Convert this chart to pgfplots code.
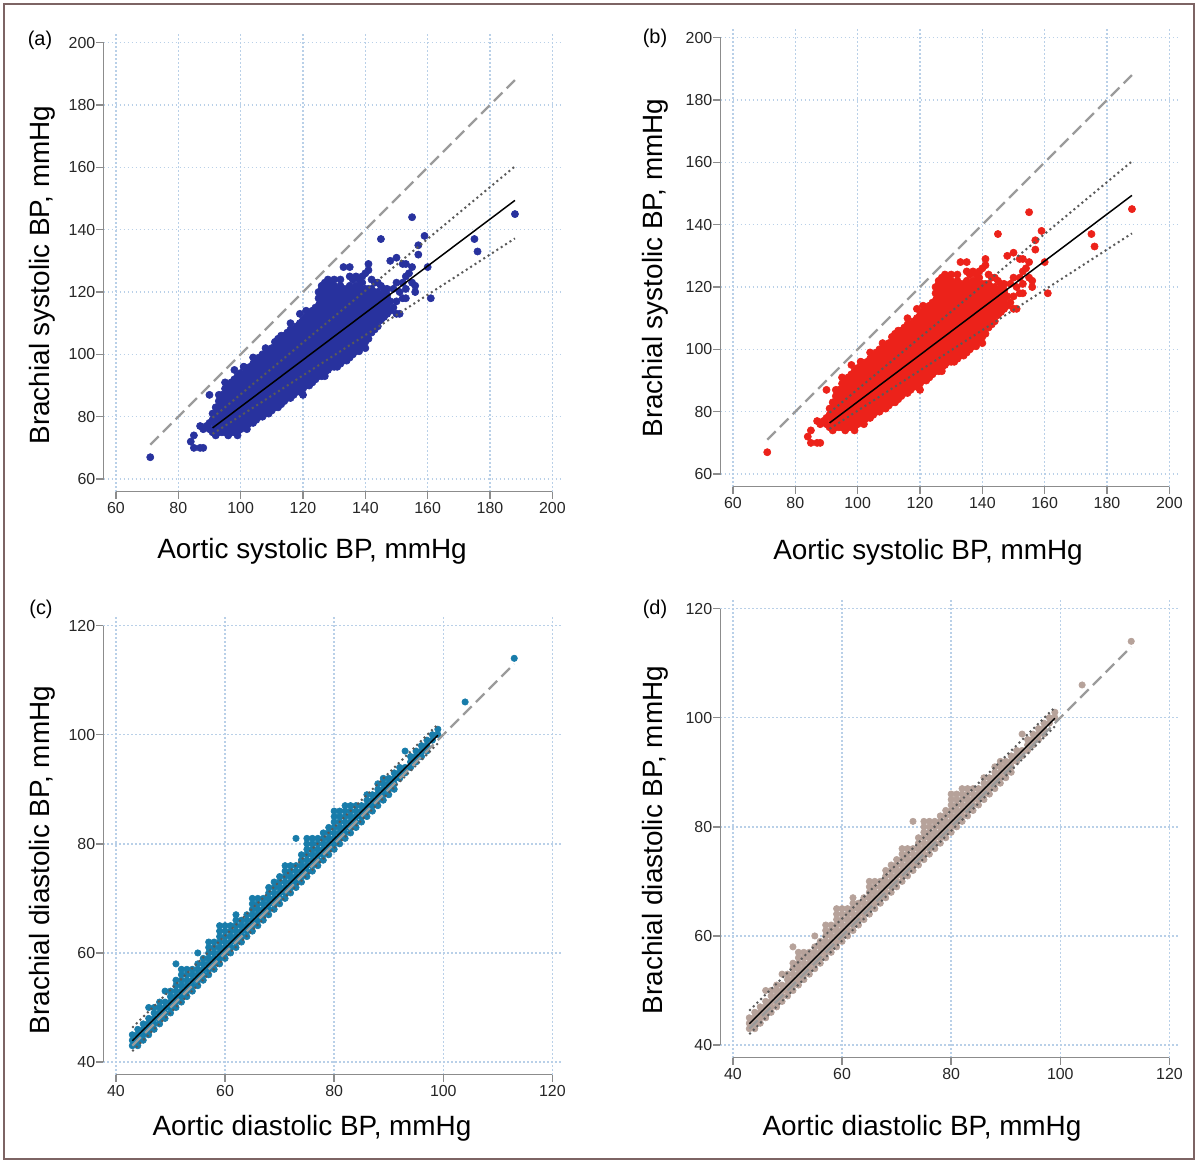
\documentclass[border=0pt]{standalone}
\usepackage{fontspec}
\setmainfont{Liberation Sans}
\usepackage{pgfplots}
\usepackage{pgfplotstable}
\pgfplotsset{compat=1.18}

\definecolor{ptblue}{RGB}{40,50,158}
\definecolor{ptred}{RGB}{236,34,26}
\definecolor{ptteal}{RGB}{24,124,170}
\definecolor{pttan}{RGB}{182,162,154}
\definecolor{gridblue}{RGB}{185,208,232}
\definecolor{axgray}{RGB}{140,140,140}
\definecolor{idgray}{RGB}{155,155,155}
\definecolor{framec}{RGB}{125,100,100}

% dense core of the systolic cloud (outline of the solid area)
\pgfplotstableread[row sep=\\]{
x y\\
91 75\\ 91 81\\ 93 85\\ 95 89\\ 98 92\\ 100 94\\ 103 96\\ 106 99\\ 110 102\\ 112 105\\
116 108\\ 120 111\\ 123 114\\ 125 118\\ 126 121\\ 130 122\\ 134 121\\ 138 122\\ 142 121\\
146 119\\ 148 118\\ 148 114\\ 145 111\\ 142 107\\ 139 103\\ 136 100\\ 132 97\\ 128 95\\
124 92\\ 120 89\\ 115 86\\ 110 82\\ 105 79\\ 100 76\\ 96 75\\
}\coresys

% edge and outlying points of the systolic cloud
\pgfplotstableread[row sep=\\]{
x y\\
91 79\\ 91 81\\ 92 83\\ 93 85\\ 94 87\\ 95 89\\ 95 91\\ 96 90\\ 97 91\\ 98 92\\ 99 93\\
100 94\\ 101 96\\ 102 95\\ 103 96\\ 104 97\\ 105 98\\ 106 99\\ 107 100\\ 108 100\\ 109 101\\
110 102\\ 111 104\\ 112 105\\ 113 106\\ 114 106\\ 115 107\\ 116 108\\ 117 108\\ 118 109\\
119 110\\ 120 111\\ 121 112\\ 122 113\\ 123 114\\ 124 115\\ 125 118\\ 125 120\\ 126 121\\
126 122\\ 127 121\\ 128 122\\ 129 122\\ 130 122\\ 131 121\\ 132 122\\ 133 121\\ 134 121\\
135 122\\ 136 121\\ 137 122\\ 138 122\\ 139 123\\ 140 121\\ 141 121\\ 142 121\\ 143 120\\
144 120\\ 145 119\\ 146 119\\ 147 118\\ 148 117\\
148 114\\ 147 113\\ 146 112\\ 145 111\\ 144 109\\ 143 108\\ 142 107\\ 141 105\\ 140 104\\
139 103\\ 138 102\\ 137 101\\ 136 100\\ 135 99\\ 134 98\\ 133 98\\ 132 97\\ 131 97\\ 130 96\\
129 96\\ 128 95\\ 127 94\\ 126 93\\ 125 93\\ 124 92\\ 123 91\\ 122 90\\ 121 90\\ 120 89\\
119 88\\ 118 88\\ 117 87\\ 116 86\\ 115 86\\ 114 85\\ 113 84\\ 112 84\\ 111 83\\ 110 82\\
109 81\\ 108 81\\ 107 80\\ 106 80\\ 105 79\\ 104 78\\ 103 78\\ 102 77\\ 101 77\\ 100 76\\
99 75\\ 98 75\\ 97 75\\ 96 75\\ 95 75\\ 94 75\\ 93 75\\ 92 75\\ 91 75\\
71 67\\ 84 72\\ 85 74\\ 85 70\\ 87 70\\ 88 70\\ 87 77\\ 88 76\\ 89 77\\ 90 76\\ 90 78\\
90 87\\ 101 96\\ 92 74\\ 96 74\\ 99 74\\ 102 76\\ 112 83\\ 120 87\\ 127 93\\ 131 96\\
138 101\\ 140 102\\ 133 128\\ 135 128\\ 135 125\\ 141 129\\ 141 127\\ 145 137\\ 148 130\\
150 131\\ 152 129\\ 153 129\\ 155 128\\ 155 123\\ 156 122\\ 153 121\\ 152 123\\ 157 135\\
157 132\\ 159 138\\ 160 128\\ 161 118\\ 155 144\\ 175 137\\ 176 133\\ 188 145\\ 150 113\\
151 113\\ 153 118\\ 156 120\\ 150 117\\ 146 116\\ 149 121\\ 144 116\\ 146 121\\ 143 123\\
138 124\\ 129 123\\ 128 124\\ 130 124\\ 136 124\\ 139 125\\ 142 124\\ 144 123\\ 147 119\\
152 118\\ 154 126\\ 145 122\\ 150 123\\ 153 125\\ 149 115\\ 145 113\\ 144 112\\ 147 121\\
151 120\\ 140 126\\ 137 125\\ 132 124\\ 127 123\\ 119 113\\ 121 114\\ 116 110\\ 108 102\\
104 99\\ 98 95\\ 93 87\\
}\ptsys

% diastolic readings (integer mmHg)
\pgfplotstableread[row sep=\\]{
x y\\
43 43\\ 43 44\\ 43 45\\ 44 43\\ 44 44\\ 44 45\\ 44 46\\ 45 44\\ 45 45\\ 45 46\\ 45 47\\
46 45\\ 46 46\\ 46 47\\ 46 48\\ 46 50\\ 47 46\\ 47 47\\ 47 48\\ 47 49\\ 47 50\\
48 47\\ 48 48\\ 48 49\\ 48 50\\ 48 51\\ 49 48\\ 49 49\\ 49 50\\ 49 51\\ 49 53\\
50 49\\ 50 50\\ 50 51\\ 50 52\\ 50 53\\ 51 50\\ 51 51\\ 51 52\\ 51 53\\ 51 54\\ 51 55\\ 51 58\\
52 51\\ 52 52\\ 52 53\\ 52 54\\ 52 55\\ 52 56\\ 52 57\\ 53 52\\ 53 53\\ 53 54\\ 53 55\\ 53 56\\ 53 57\\
54 53\\ 54 54\\ 54 55\\ 54 56\\ 54 57\\ 55 54\\ 55 55\\ 55 56\\ 55 57\\ 55 58\\ 55 60\\
56 55\\ 56 56\\ 56 57\\ 56 58\\ 56 59\\ 57 56\\ 57 57\\ 57 58\\ 57 59\\ 57 60\\ 57 61\\ 57 62\\
58 57\\ 58 58\\ 58 59\\ 58 60\\ 58 61\\ 58 62\\ 59 58\\ 59 59\\ 59 60\\ 59 61\\ 59 62\\ 59 63\\ 59 64\\ 59 65\\
60 59\\ 60 60\\ 60 61\\ 60 62\\ 60 63\\ 60 64\\ 60 65\\ 61 60\\ 61 61\\ 61 62\\ 61 63\\ 61 64\\ 61 65\\
62 61\\ 62 62\\ 62 63\\ 62 64\\ 62 65\\ 62 66\\ 62 67\\ 63 62\\ 63 63\\ 63 64\\ 63 65\\ 63 66\\
64 63\\ 64 64\\ 64 65\\ 64 66\\ 64 67\\ 65 64\\ 65 65\\ 65 66\\ 65 67\\ 65 68\\ 65 69\\ 65 70\\
66 65\\ 66 66\\ 66 67\\ 66 68\\ 66 69\\ 66 70\\ 67 66\\ 67 67\\ 67 68\\ 67 69\\ 67 70\\
68 67\\ 68 68\\ 68 69\\ 68 70\\ 68 71\\ 68 72\\ 69 68\\ 69 69\\ 69 70\\ 69 71\\ 69 72\\ 69 73\\
70 69\\ 70 70\\ 70 71\\ 70 72\\ 70 73\\ 70 74\\ 71 70\\ 71 71\\ 71 72\\ 71 73\\ 71 74\\ 71 75\\ 71 76\\
72 71\\ 72 72\\ 72 73\\ 72 74\\ 72 75\\ 72 76\\ 73 72\\ 73 73\\ 73 74\\ 73 75\\ 73 76\\ 73 81\\
74 73\\ 74 74\\ 74 75\\ 74 76\\ 74 77\\ 74 78\\ 75 74\\ 75 75\\ 75 76\\ 75 77\\ 75 78\\ 75 79\\ 75 80\\ 75 81\\
76 75\\ 76 76\\ 76 77\\ 76 78\\ 76 79\\ 76 80\\ 76 81\\ 77 76\\ 77 77\\ 77 78\\ 77 79\\ 77 80\\ 77 81\\
78 77\\ 78 78\\ 78 79\\ 78 80\\ 78 81\\ 78 82\\ 79 78\\ 79 79\\ 79 80\\ 79 81\\ 79 82\\ 79 83\\
80 79\\ 80 80\\ 80 81\\ 80 82\\ 80 83\\ 80 84\\ 80 85\\ 80 86\\ 81 80\\ 81 81\\ 81 82\\ 81 83\\ 81 84\\ 81 85\\ 81 86\\
82 81\\ 82 82\\ 82 83\\ 82 84\\ 82 85\\ 82 86\\ 82 87\\ 83 82\\ 83 83\\ 83 84\\ 83 85\\ 83 86\\ 83 87\\
84 83\\ 84 84\\ 84 85\\ 84 86\\ 84 87\\ 85 84\\ 85 85\\ 85 86\\ 85 87\\
86 85\\ 86 86\\ 86 87\\ 86 88\\ 86 89\\ 87 86\\ 87 87\\ 87 88\\ 87 89\\
88 87\\ 88 88\\ 88 89\\ 88 90\\ 88 91\\ 89 88\\ 89 89\\ 89 90\\ 89 91\\ 89 92\\
90 89\\ 90 90\\ 90 91\\ 90 92\\ 91 90\\ 91 91\\ 91 92\\ 91 93\\
92 92\\ 92 93\\ 92 94\\ 93 93\\ 93 94\\ 93 97\\ 94 94\\ 94 95\\ 94 96\\ 95 95\\ 95 96\\ 95 97\\
96 96\\ 96 97\\ 96 98\\ 97 97\\ 97 98\\ 97 99\\ 98 99\\ 98 100\\ 99 100\\ 99 101\\
104 106\\ 113 114\\
}\ptdia

\pgfplotsset{
  panel/.style={
    anchor=south west,
    axis line style={draw=none},
    xtick pos=left, ytick pos=left,
    tick align=outside,
    major tick length=3.6bp,
    tick style={axgray, line width=0.7bp},
    grid=major,
    grid style={gridblue, line width=0.7bp, dash pattern=on 0.8bp off 1.2bp},
    /pgf/number format/assume math mode=true,
    tick label style={font=\fontsize{8}{9}\selectfont, text=black!85},
    xticklabel style={yshift=1.8bp},
    yticklabel style={xshift=3bp},
    clip=false,
    clip marker paths=true,
  },
  sys/.style={panel, x=1.5585bp, y=1.5585bp,
    xmin=56, xmax=203.3, ymin=56, ymax=203.3,
    xtick={60,80,...,200}, ytick={60,80,...,200}},
  dia/.style={panel, x=2.728bp, y=2.728bp,
    xmin=37.7, xmax=121.8, ymin=37.7, ymax=121.8,
    xtick={40,60,...,120}, ytick={40,60,...,120}},
  idline/.style={idgray, line width=1.1bp, dash pattern=on 6bp off 3bp},
  regline/.style={black, line width=0.75bp},
  ciline/.style={black!65, line width=1bp, dash pattern=on 1bp off 1.6bp},
}

\newcommand{\labfont}{\fontsize{14}{16}\selectfont}
\newcommand{\tagfont}{\fontsize{10}{12}\selectfont}

\begin{document}
\begin{tikzpicture}
\useasboundingbox (0,0) rectangle (599bp,-581.5bp);
\draw[framec, line width=0.8bp] (2bp,-2bp) rectangle (597bp,-579.5bp);

% (a)
\begin{axis}[sys, at={(51.75bp,-245.75bp)}]
  \addplot[axgray, line width=0.7bp] coordinates {(60,56) (200,56)};
  \addplot[axgray, line width=0.7bp] coordinates {(56,60) (56,200)};
  \addplot[fill=ptblue, draw=ptblue, line width=0.4bp] table {\coresys};
  \addplot[only marks, mark=*, mark size=1.8bp, ptblue, mark options={line width=0.3bp}] table {\ptsys};
  \addplot[idline] coordinates {(71,71) (188,188)};
  \addplot[ciline] coordinates {(91,79.7) (188,160.3)};
  \addplot[ciline] coordinates {(91,74.5) (188,137.2)};
  \addplot[regline] coordinates {(91,76.4) (188,149.4)};
\end{axis}

% (b)
\begin{axis}[sys, at={(360.25bp,-243.25bp)}]
  \addplot[axgray, line width=0.7bp] coordinates {(60,56) (200,56)};
  \addplot[axgray, line width=0.7bp] coordinates {(56,60) (56,200)};
  \addplot[fill=ptred, draw=ptred, line width=0.4bp] table {\coresys};
  \addplot[only marks, mark=*, mark size=1.8bp, ptred, mark options={line width=0.3bp}] table {\ptsys};
  \addplot[idline] coordinates {(71,71) (188,188)};
  \addplot[ciline] coordinates {(91,79.7) (188,160.3)};
  \addplot[ciline] coordinates {(91,74.5) (188,137.2)};
  \addplot[regline] coordinates {(91,76.4) (188,149.4)};
\end{axis}

% (c)
\begin{axis}[dia, at={(51.7bp,-537.3bp)}]
  \addplot[axgray, line width=0.7bp] coordinates {(40,37.7) (120,37.7)};
  \addplot[axgray, line width=0.7bp] coordinates {(37.7,40) (37.7,120)};
  \addplot[only marks, mark=*, mark size=1.6bp, ptteal, mark options={line width=0.3bp}] table {\ptdia};
  \addplot[idline] coordinates {(43,43) (113,113)};
  \addplot[ciline] coordinates {(43,46.3) (99,101.9)};
  \addplot[ciline] coordinates {(43,42.0) (99,98.4)};
  \addplot[regline] coordinates {(43,43.9) (99,99.9)};
\end{axis}

% (d)
\begin{axis}[dia, at={(360.2bp,-528.8bp)}]
  \addplot[axgray, line width=0.7bp] coordinates {(40,37.7) (120,37.7)};
  \addplot[axgray, line width=0.7bp] coordinates {(37.7,40) (37.7,120)};
  \addplot[only marks, mark=*, mark size=1.6bp, pttan, mark options={line width=0.3bp}] table {\ptdia};
  \addplot[idline] coordinates {(43,43) (113,113)};
  \addplot[ciline] coordinates {(43,46.3) (99,101.9)};
  \addplot[ciline] coordinates {(43,42.0) (99,98.4)};
  \addplot[regline] coordinates {(43,43.9) (99,99.9)};
\end{axis}

% titles and labels
\node[font=\tagfont] at (20bp,-20bp) {(a)};
\node[font=\tagfont] at (327.5bp,-19bp) {(b)};
\node[font=\tagfont] at (20.5bp,-304.5bp) {(c)};
\node[font=\tagfont] at (327.5bp,-304.5bp) {(d)};

\node[font=\labfont] at (156bp,-275.5bp) {Aortic systolic BP, mmHg};
\node[font=\labfont] at (464bp,-276bp) {Aortic systolic BP, mmHg};
\node[font=\labfont] at (156bp,-564bp) {Aortic diastolic BP, mmHg};
\node[font=\labfont] at (461bp,-564bp) {Aortic diastolic BP, mmHg};

\node[font=\labfont, rotate=90] at (21bp,-137.5bp) {Brachial systolic BP, mmHg};
\node[font=\labfont, rotate=90] at (327.5bp,-134bp) {Brachial systolic BP, mmHg};
\node[font=\labfont, rotate=90] at (21bp,-430bp) {Brachial diastolic BP, mmHg};
\node[font=\labfont, rotate=90] at (327.5bp,-420bp) {Brachial diastolic BP, mmHg};
\end{tikzpicture}
\end{document}
